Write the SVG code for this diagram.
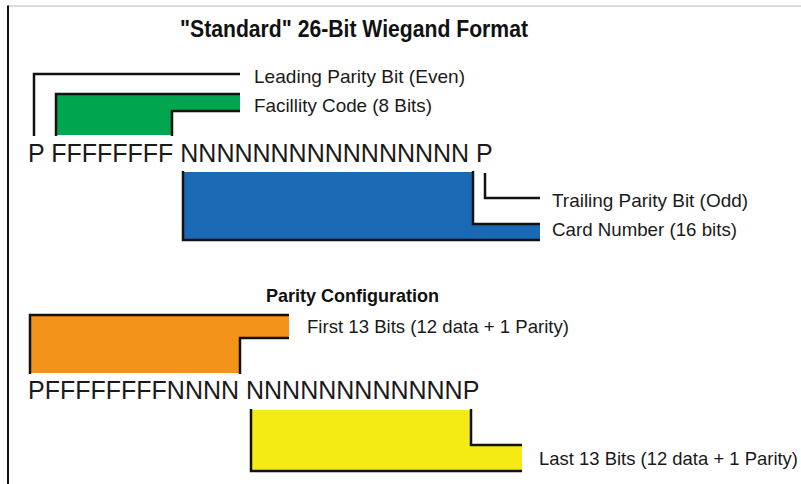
<svg xmlns="http://www.w3.org/2000/svg" width="801" height="484" viewBox="0 0 801 484">
  <style>
    .title { font-family: "Liberation Sans", Arial, sans-serif; font-weight: bold; fill: #111; }
    .label { font-family: "Liberation Sans", Arial, sans-serif; font-size: 18.5px; fill: #1a1a1a; }
    .bits { font-family: "Liberation Sans", Arial, sans-serif; font-size: 25px; fill: #1a1a1a; }
    .edge { fill: none; stroke: #111; stroke-width: 2.5; stroke-linecap: butt; stroke-linejoin: miter; }
    .leader { fill: none; stroke: #111; stroke-width: 2.5; }
  </style>

  <rect width="801" height="484" fill="#fff"/>

  <!-- frame -->
  <g id="frame">
    <line x1="8" y1="6" x2="801" y2="6" stroke="#cfcfcf" stroke-width="1.5"/>
    <line x1="8" y1="5.5" x2="8" y2="484" stroke="#111" stroke-width="2"/>
  </g>

  <g id="title">
    <text class="title" x="180" y="37" font-size="23.5" textLength="348" lengthAdjust="spacingAndGlyphs">"Standard" 26-Bit Wiegand Format</text>
  </g>

  <!-- 26-bit frame layout -->
  <g id="bits-26">
    <text class="bits" x="28" y="162">P FFFFFFFF NNNNNNNNNNNNNNNN P</text>
  </g>

  <g id="facility-code">
    <path d="M56 94 H240 V111 H172 V135 H56 Z" fill="#00a64f"/>
    <path class="edge" d="M56 136 V94 H240"/>
    <path class="edge" d="M240 111 H172 V136"/>
    <text class="label" x="254" y="112" textLength="178" lengthAdjust="spacingAndGlyphs">Facillity Code (8 Bits)</text>
  </g>

  <g id="card-number">
    <path d="M183 172 H473 V224 H540 V240 H183 Z" fill="#1a69b4"/>
    <path class="edge" d="M183 171 V240 H540"/>
    <path class="edge" d="M473 171 V224 H540"/>
    <text class="label" x="552" y="236" textLength="185" lengthAdjust="spacingAndGlyphs">Card Number (16 bits)</text>
  </g>

  <g id="leading-parity">
    <text class="label" x="254" y="83" textLength="211" lengthAdjust="spacingAndGlyphs">Leading Parity Bit (Even)</text>
  </g>

  <g id="trailing-parity">
    <text class="label" x="552" y="207" textLength="196" lengthAdjust="spacingAndGlyphs">Trailing Parity Bit (Odd)</text>
  </g>

  <!-- parity split -->
  <g id="parity-title">
    <text class="title" x="266" y="302" font-size="19" textLength="173" lengthAdjust="spacingAndGlyphs">Parity Configuration</text>
  </g>

  <g id="bits-13-13">
    <text class="bits" x="28" y="399">PFFFFFFFFNNNN NNNNNNNNNNNNP</text>
  </g>

  <g id="first-13">
    <path d="M30 315 H289 V338 H240 V373 H30 Z" fill="#f39319"/>
    <path class="edge" d="M30 374 V315 H289"/>
    <path class="edge" d="M289 338 H240 V374"/>
    <text class="label" x="307" y="333" textLength="262" lengthAdjust="spacingAndGlyphs">First 13 Bits (12 data + 1 Parity)</text>
  </g>

  <g id="last-13">
    <path d="M251 410 H471 V445 H522 V471 H251 Z" fill="#f5eb14"/>
    <path class="edge" d="M251 409 V471 H522"/>
    <path class="edge" d="M471 409 V445 H522"/>
    <text class="label" x="539" y="465" textLength="259" lengthAdjust="spacingAndGlyphs">Last 13 Bits (12 data + 1 Parity)</text>
  </g>

  <!-- leader lines from the parity bits to their labels -->
  <g id="connectors">
    <path class="leader" d="M34 136 V74 H240"/>
    <path class="leader" d="M485 173 V198 H540"/>
  </g>
</svg>
